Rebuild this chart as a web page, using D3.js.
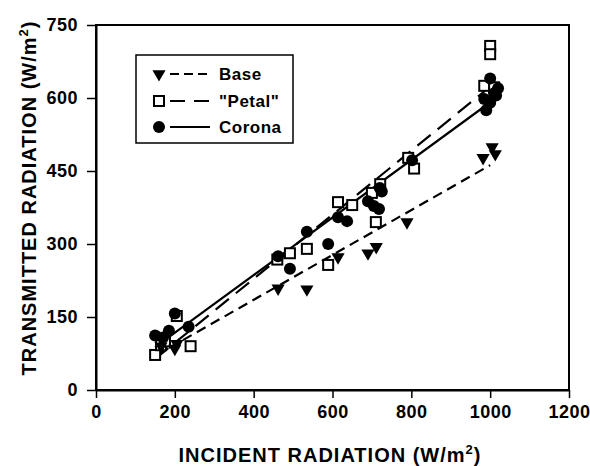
<!DOCTYPE html>
<html>
<head>
<meta charset="utf-8">
<script src="https://cdn.jsdelivr.net/npm/d3@7"></script>
<style>
  body { margin: 0; background: #fff; }
  svg { display: block; font-family: "Liberation Sans", Arial, sans-serif; font-weight: bold; }
</style>
</head>
<body>
<svg></svg>
<script>
// data
let xTicks = [0, 200, 400, 600, 800, 1000, 1200];
let yTicks = [0, 150, 300, 450, 600, 750];

let baseX = [165, 200, 205, 462, 535, 614, 690, 711, 789, 982, 1005, 1013];
let baseY = [90, 85, 95, 209, 207, 273, 281, 294, 345, 477, 499, 485];

let petalX = [150, 165, 175, 205, 240, 460, 492, 535, 589, 614, 650, 700, 710, 721, 792, 807, 985, 1010, 1000, 1000];
let petalY = [72, 92, 100, 152, 90, 268, 281, 290, 257, 386, 380, 405, 345, 423, 477, 455, 625, 622, 707, 690];

let coronaX = [150, 170, 185, 200, 235, 462, 492, 535, 589, 614, 637, 690, 705, 718, 720, 725, 802, 985, 990, 1000, 1000, 1010, 1015, 1020];
let coronaY = [112, 108, 122, 157, 130, 275, 249, 325, 300, 355, 347, 388, 378, 372, 415, 408, 472, 598, 575, 590, 640, 610, 605, 620];

// fitted lines (end points)
let baseFitX = [150, 1000], baseFitY = [70, 462];
let petalFitX = [150, 1010], petalFitY = [64, 630];
let coronaFitX = [150, 1015], coronaFitY = [88, 600];

let legendLabels = ['Base', '"Petal"', 'Corona'];

let width = 590, height = 466;
let padL = 96, padR = 569, padT = 25, padB = 390;

let svg = d3.select('svg').attr('width', width).attr('height', height);

let xScale = d3.scaleLinear().domain([0, 1200]).range([padL, padR]);
let yScale = d3.scaleLinear().domain([0, 750]).range([padB, padT]);

// frame
svg.append('rect')
    .attr('x', padL).attr('y', padT)
    .attr('width', padR - padL).attr('height', padB - padT)
    .attr('fill', 'none').attr('stroke', '#000').attr('stroke-width', 2);

// axes
let xAxis = d3.axisBottom(xScale).tickValues(xTicks).tickFormat(d3.format('d'))
    .tickSize(8).tickPadding(7).tickSizeOuter(0);
let gx = svg.append('g').attr('transform', `translate(0, ${padB})`).call(xAxis);
let yAxis = d3.axisLeft(yScale).tickValues(yTicks).tickFormat(d3.format('d'))
    .tickSize(9).tickPadding(9).tickSizeOuter(0);
let gy = svg.append('g').attr('transform', `translate(${padL}, 0)`).call(yAxis);

[gx, gy].forEach(g => {
    g.select('.domain').attr('stroke-width', 2);
    g.selectAll('.tick line').attr('stroke-width', 1.5);
    g.selectAll('.tick text')
        .attr('font-size', 18).attr('font-family', '"Liberation Sans", Arial, sans-serif')
        .attr('font-weight', 'bold').attr('fill', '#000').style('letter-spacing', '0.5px');
});

// axis titles
let xt = svg.append('text')
    .attr('x', 330).attr('y', 462)
    .attr('text-anchor', 'middle').attr('font-size', 20).style('letter-spacing', '1px');
xt.append('tspan').text('INCIDENT RADIATION (W/m');
xt.append('tspan').attr('font-size', 13).attr('dy', -8).text('2');
xt.append('tspan').attr('dy', 8).text(')');

let yt = svg.append('text')
    .attr('transform', 'translate(36, 198) rotate(-90)')
    .attr('text-anchor', 'middle').attr('font-size', 20).style('letter-spacing', '1px');
yt.append('tspan').text('TRANSMITTED RADIATION (W/m');
yt.append('tspan').attr('font-size', 13).attr('dy', -8).text('2');
yt.append('tspan').attr('dy', 8).text(')');

// fit lines
let line = d3.line().x(d => xScale(d[0])).y(d => yScale(d[1]));
let fits = [
    { x: baseFitX, y: baseFitY, dash: '10,6' },
    { x: petalFitX, y: petalFitY, dash: '17,9' },
    { x: coronaFitX, y: coronaFitY, dash: null }
];
fits.forEach(f => {
    svg.append('path')
        .datum(d3.zip(f.x, f.y))
        .attr('d', line)
        .attr('fill', 'none').attr('stroke', '#000').attr('stroke-width', 2.2)
        .attr('stroke-dasharray', f.dash);
});

// markers
let tri = d3.symbol().type(d3.symbolTriangle).size(75);
let drawTri = (g, x, y) => g.append('path').attr('d', tri())
    .attr('transform', `translate(${x},${y}) rotate(180)`).attr('fill', '#000');
let drawSq = (g, x, y) => g.append('rect').attr('x', x - 5).attr('y', y - 5)
    .attr('width', 10).attr('height', 10).attr('fill', '#fff').attr('stroke', '#000').attr('stroke-width', 2);
let drawCirc = (g, x, y) => g.append('circle').attr('cx', x).attr('cy', y).attr('r', 6).attr('fill', '#000');

let pts = svg.append('g');
d3.zip(petalX, petalY).forEach(d => drawSq(pts, xScale(d[0]), yScale(d[1])));
d3.zip(baseX, baseY).forEach(d => drawTri(pts, xScale(d[0]), yScale(d[1])));
d3.zip(coronaX, coronaY).forEach(d => drawCirc(pts, xScale(d[0]), yScale(d[1])));

// legend
let lg = svg.append('g');
lg.append('rect').attr('x', 136).attr('y', 55).attr('width', 157).attr('height', 88)
    .attr('fill', '#fff').attr('stroke', '#000').attr('stroke-width', 1.5);
let rowsY = [74, 101, 127];
let dashes = ['9,5', '15,9', null];
let drawers = [drawTri, drawSq, drawCirc];
legendLabels.forEach((name, i) => {
    drawers[i](lg, 159, rowsY[i]);
    lg.append('line').attr('x1', 170).attr('x2', 210)
        .attr('y1', rowsY[i]).attr('y2', rowsY[i])
        .attr('stroke', '#000').attr('stroke-width', 2).attr('stroke-dasharray', dashes[i]);
    lg.append('text').attr('x', 219).attr('y', rowsY[i] + 6)
        .attr('font-size', 17).style('letter-spacing', '0.5px').text(name);
});
</script>
</body>
</html>
